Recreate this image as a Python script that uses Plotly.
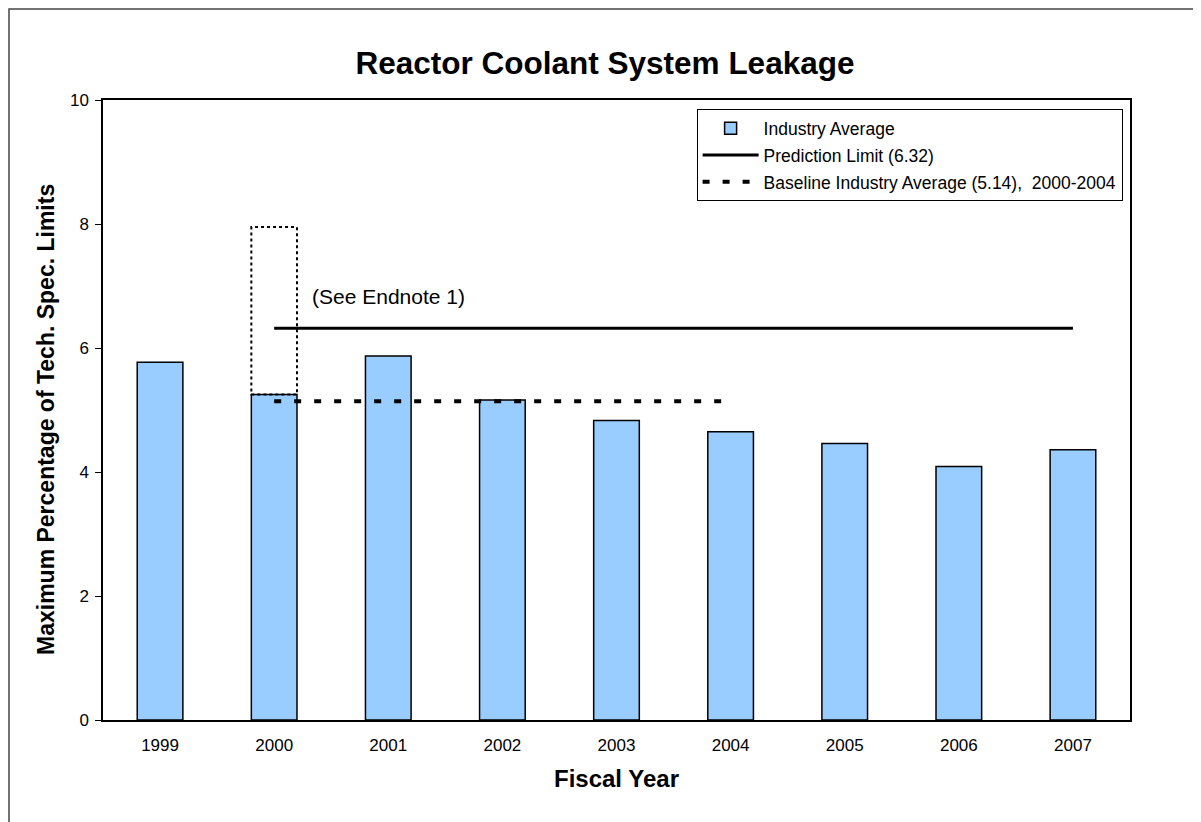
import plotly.graph_objects as go

years = [1999, 2000, 2001, 2002, 2003, 2004, 2005, 2006, 2007]
industry_avg = [5.77, 5.25, 5.87, 5.16, 4.83, 4.65, 4.46, 4.09, 4.36]
prediction_limit = 6.32
pred_years = [2000, 2007]
baseline_avg = 5.14
baseline_years = [2000, 2004]
outlier_year = 2000
outlier_top = 7.95
y_ticks = [0, 2, 4, 6, 8, 10]

FONT = "Liberation Sans, Arial, sans-serif"
BAR_W = 0.4
ML, MR, MT, MB = 95, 79, 92, 110
PW, PH = 1201 - ML - MR, 822 - MT - MB

fig = go.Figure()
fig.add_trace(go.Bar(
    x=years, y=industry_avg, width=BAR_W, name="Industry Average", legendgroup="a",
    marker=dict(color="#99CCFF", line=dict(color="black", width=1.5)),
))
fig.add_trace(go.Scatter(
    x=pred_years, y=[prediction_limit] * len(pred_years), mode="lines", legendgroup="b",
    name="Prediction Limit (6.32)", line=dict(color="black", width=3),
))
fig.add_trace(go.Scatter(
    x=baseline_years, y=[baseline_avg] * len(baseline_years), mode="lines", legendgroup="c",
    name="Baseline Industry Average (5.14),  2000-2004",
    line=dict(color="black", width=4, dash="7px,13px"),
))

# dotted outline above the 2000 bar
oi = years.index(outlier_year)
fig.add_shape(type="rect", xref="x", yref="y",
              x0=outlier_year - BAR_W / 2, x1=outlier_year + BAR_W / 2,
              y0=industry_avg[oi], y1=outlier_top,
              line=dict(color="black", width=2, dash="dot"))

fig.add_annotation(x=2001, y=6.83, xref="x", yref="y", text="(See Endnote 1)",
                   showarrow=False, font=dict(family=FONT, size=21, color="black"))

# y-axis title
fig.add_annotation(x=(38 - ML) / PW, y=(822 - MB - 412) / PH, xref="paper", yref="paper",
                   text="<b>Maximum Percentage of Tech. Spec. Limits</b>", textangle=-90,
                   showarrow=False, xanchor="center", yanchor="middle",
                   font=dict(family=FONT, size=23, color="black"))

# outer frame (left/top visible)
fig.add_shape(type="rect", xref="paper", yref="paper",
              x0=(1 - ML) / PW, x1=1.3, y0=-0.4, y1=1 + (MT - 1) / PH,
              line=dict(color="#444", width=1.5), layer="below")

fig.update_layout(
    width=1201, height=822,
    margin=dict(l=ML, r=MR, t=MT, b=MB),
    paper_bgcolor="white", plot_bgcolor="white",
    font=dict(family=FONT, color="black", size=17),
    title=dict(text="<b>Reactor Coolant System Leakage</b>", x=(605 - 8) / 1201,
               xanchor="center", y=1 - 55 / 822, yanchor="middle",
               font=dict(family=FONT, size=31.5, color="black")),
    showlegend=True,
    legend=dict(x=0.578, y=0.985, xanchor="left", yanchor="top",
                bgcolor="white", bordercolor="black", borderwidth=1,
                font=dict(family=FONT, size=17.5, color="black"),
                tracegroupgap=1, itemwidth=56),
)
fig.update_xaxes(
    range=[1998.5, 2007.5], tickvals=years, ticktext=[str(y) for y in years],
    showline=True, linecolor="black", linewidth=1.5, mirror=True, ticks="",
    showgrid=False, zeroline=False, ticklabelstandoff=9,
    title=dict(text="<b>Fiscal Year</b>", font=dict(family=FONT, size=24), standoff=16),
    tickfont=dict(family=FONT, size=17),
)
fig.update_yaxes(
    range=[0, 10], tickvals=y_ticks,
    showline=True, linecolor="black", linewidth=1.5, mirror=True,
    ticks="outside", ticklen=6, tickcolor="black",
    showgrid=False, zeroline=False, ticklabelstandoff=3,
    tickfont=dict(family=FONT, size=17),
)

fig.write_html("out.html")
